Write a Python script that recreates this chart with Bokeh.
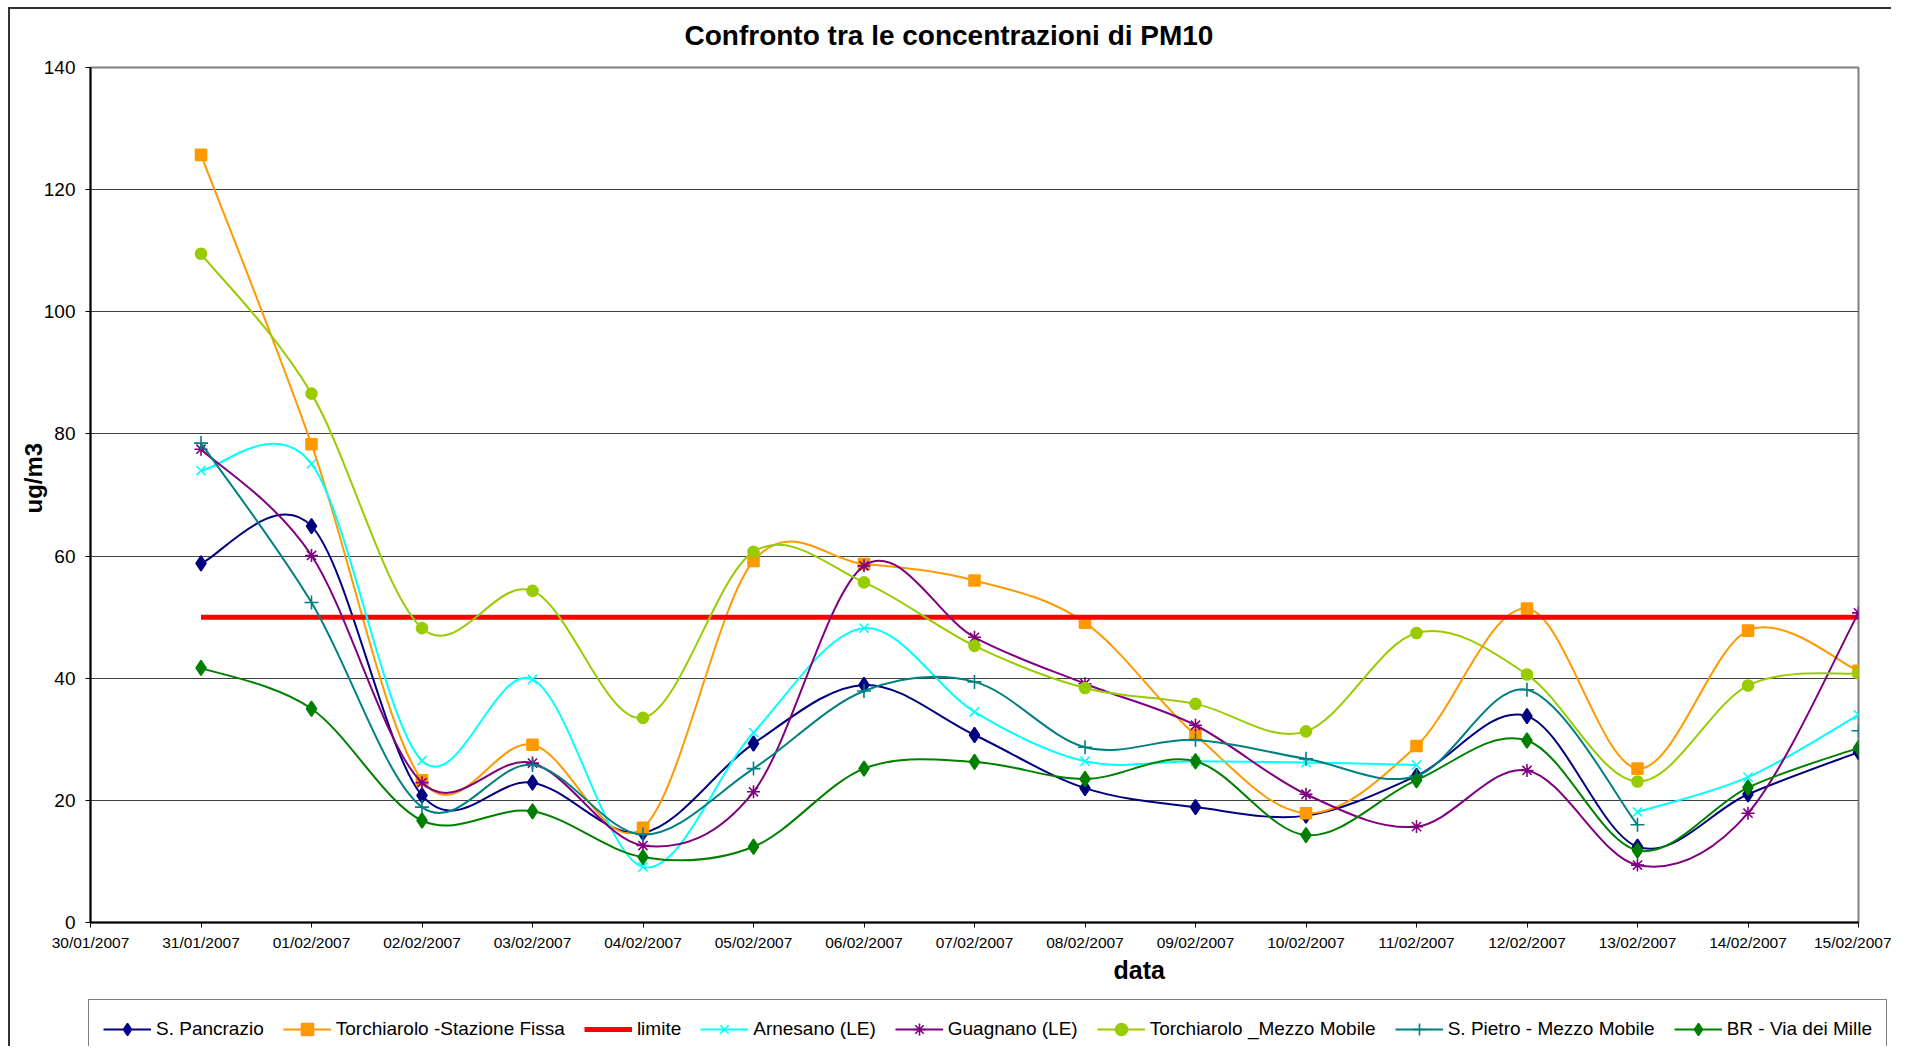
import math
from bokeh.plotting import figure
from bokeh.layouts import column
from bokeh.models import (ColumnDataSource, FixedTicker, Legend, LegendItem,
                          Title, Range1d)
from bokeh.embed import file_html
from bokeh.resources import INLINE

# ---------------- data ----------------
date_labels = ["30/01/2007", "31/01/2007", "01/02/2007", "02/02/2007",
               "03/02/2007", "04/02/2007", "05/02/2007", "06/02/2007",
               "07/02/2007", "08/02/2007", "09/02/2007", "10/02/2007",
               "11/02/2007", "12/02/2007", "13/02/2007", "14/02/2007",
               "15/02/2007"]
dates = date_labels[1:]
y_ticks = [0, 20, 40, 60, 80, 100, 120, 140]

nan = float("nan")
s_pancrazio = [58.8, 64.9, 20.8, 22.9, 14.7, 29.3, 38.9, 30.7, 22.0, 18.9,
               17.5, 24.0, 33.8, 12.4, 21.0, 27.9]
torchiarolo_sf = [125.7, 78.3, 23.3, 29.1, 15.5, 59.2, 58.7, 56.0, 49.1, 30.7,
                  17.9, 28.9, 51.4, 25.2, 47.8, 41.2]
arnesano = [74.0, 75.1, 26.5, 39.8, 9.1, 31.1, 48.2, 34.5, 26.4, 26.4,
            26.2, 25.8, nan, 18.1, 23.8, 34.0]
guagnano = [77.5, 60.1, 22.9, 26.1, 12.6, 21.4, 58.4, 46.7, 39.1, 32.3,
            21.0, 15.7, 24.9, 9.4, 17.9, 50.7]
torchiarolo_mm = [109.5, 86.6, 48.2, 54.3, 33.5, 60.7, 55.7, 45.3, 38.4, 35.8,
                  31.3, 47.4, 40.6, 23.1, 38.8, 40.8]
s_pietro = [78.5, 52.4, 18.9, 25.8, 14.4, 25.2, 37.9, 39.4, 28.7, 29.9,
            26.8, 24.0, 38.1, 16.0, nan, 31.4]
br_mille = [41.7, 35.0, 16.7, 18.2, 10.7, 12.4, 25.2, 26.3, 23.5, 26.4,
            14.3, 23.3, 29.8, 11.8, 22.1, 28.6]
limite = 50

FONT = "Liberation Sans"

series = [
    ("S. Pancrazio", s_pancrazio, "#000080", "diamond", 15),
    ("Torchiarolo -Stazione Fissa", torchiarolo_sf, "#FF9900", "square", 11),
    ("limite", None, "#FF0000", None, 0),
    ("Arnesano (LE)", arnesano, "#00FFFF", "x", 13),
    ("Guagnano (LE)", guagnano, "#800080", "asterisk", 13),
    ("Torchiarolo _Mezzo Mobile", torchiarolo_mm, "#99CC00", "circle", 11),
    ("S. Pietro - Mezzo Mobile", s_pietro, "#008080", "cross", 14),
    ("BR - Via dei Mille", br_mille, "#008000", "diamond", 15),
]

x_days = [date_labels.index(d) for d in dates]


def bezier_segments(xs, ys):
    """Excel-like smoothed line: cubic Bezier pieces between valid neighbours."""
    out = dict(x0=[], y0=[], x1=[], y1=[], cx0=[], cy0=[], cx1=[], cy1=[])
    n = len(xs)
    ok = [not math.isnan(v) for v in ys]
    for i in range(n - 1):
        if not (ok[i] and ok[i + 1]):
            continue
        p1 = (xs[i], ys[i])
        p2 = (xs[i + 1], ys[i + 1])
        p0 = (xs[i - 1], ys[i - 1]) if i - 1 >= 0 and ok[i - 1] else p1
        p3 = (xs[i + 2], ys[i + 2]) if i + 2 < n and ok[i + 2] else p2
        out["x0"].append(p1[0]); out["y0"].append(p1[1])
        out["x1"].append(p2[0]); out["y1"].append(p2[1])
        out["cx0"].append(p1[0] + (p2[0] - p0[0]) / 6.0)
        out["cy0"].append(p1[1] + (p2[1] - p0[1]) / 6.0)
        out["cx1"].append(p2[0] - (p3[0] - p1[0]) / 6.0)
        out["cy1"].append(p2[1] - (p3[1] - p1[1]) / 6.0)
    return out


# ---------------- main figure ----------------
W, H_MAIN, H_LEG = 1891, 995, 51
p = figure(width=W, height=H_MAIN,
           x_range=Range1d(0, len(date_labels) - 1), y_range=Range1d(0, 140),
           output_backend="svg", toolbar_location=None,
           min_border_left=90, min_border_right=33,
           min_border_top=67, min_border_bottom=H_MAIN - 922,
           background_fill_color="white", border_fill_color="white",
           border_fill_alpha=0)
p.frame_align = False

p.outline_line_color = "#808080"
p.outline_line_width = 2

p.title = Title(text="Confronto tra le concentrazioni di PM10", align="left",
                offset=594, text_font=FONT, text_font_size="28px",
                text_font_style="bold", text_color="black", standoff=34)

# axes
p.xaxis.ticker = FixedTicker(ticks=list(range(len(date_labels))))
p.xaxis.major_label_overrides = {i: lab for i, lab in enumerate(date_labels)}
p.yaxis.ticker = FixedTicker(ticks=y_ticks)
for ax in (p.xaxis[0], p.yaxis[0]):
    ax.axis_line_color = "black"
    ax.axis_line_width = 2
    ax.major_tick_line_color = "black"
    ax.major_tick_line_width = 1
    ax.major_tick_in = 0
    ax.major_tick_out = 5
    ax.minor_tick_line_color = None
    ax.major_label_text_font = FONT
    ax.major_label_text_color = "black"
p.xaxis.major_label_text_font_size = "15.5px"
p.xaxis.major_label_standoff = 6
p.yaxis.major_label_text_font_size = "19px"
p.yaxis.major_label_standoff = 10

ylab = Title(text="ug/m3", align="left", offset=409, text_font=FONT,
             text_font_size="24px", text_font_style="bold", text_color="black",
             standoff=0)
try:
    ylab.standoff = -12
except Exception:
    pass
p.add_layout(ylab, "left")

p.xgrid.grid_line_color = None
p.ygrid.grid_line_color = "#404040"
p.ygrid.grid_line_width = 1

xlab = Title(text="data", align="left", offset=1023, text_font=FONT,
             text_font_size="25px", text_font_style="bold", text_color="black",
             standoff=0)
p.add_layout(xlab, "below")

# ---------------- legend strip (its own small canvas below the chart) ----------------
pl = figure(width=W, height=H_LEG, x_range=Range1d(0, 1), y_range=Range1d(0, 1),
            output_backend="svg", toolbar_location=None, title=None,
            x_axis_location=None, y_axis_location=None, min_border=0,
            background_fill_alpha=0, border_fill_alpha=0)
pl.frame_align = False
pl.outline_line_color = None
pl.grid.grid_line_color = None

# ---------------- series ----------------
items = []
for name, vals, color, marker, size in series:
    if vals is None:
        p.line(x=[x_days[0], x_days[-1]], y=[limite, limite],
               line_color=color, line_width=5)
        # legend swatch renderer (same data, lies outside the strip's ranges)
        lr = pl.line(x=[x_days[0], x_days[-1]], y=[limite, limite],
                     line_color=color, line_width=5)
        items.append(LegendItem(label=name, renderers=[lr]))
        continue
    seg = ColumnDataSource(bezier_segments(x_days, vals))
    p.bezier(x0="x0", y0="y0", x1="x1", y1="y1", cx0="cx0", cy0="cy0",
             cx1="cx1", cy1="cy1", source=seg, line_color=color, line_width=2)
    pts = ColumnDataSource(dict(x=[x for x, v in zip(x_days, vals) if not math.isnan(v)],
                                y=[v for v in vals if not math.isnan(v)]))
    p.scatter(x="x", y="y", source=pts, marker=marker, size=size,
              fill_color=color, line_color=color, line_width=1.6)
    # legend swatch renderers (same data, outside the strip's visible ranges)
    ll = pl.line(x="x", y="y", source=pts, line_color=color, line_width=2)
    lm = pl.scatter(x="x", y="y", source=pts, marker=marker, size=size,
                    fill_color=color, line_color=color, line_width=1.6)
    items.append(LegendItem(label=name, renderers=[ll, lm]))

legend = Legend(items=items, orientation="horizontal",
                location=(88, -13),
                margin=0, padding=14, spacing=19, glyph_width=48,
                glyph_height=30, label_standoff=5, label_text_font=FONT,
                label_text_font_size="19px", label_text_color="black",
                border_line_color="black", border_line_width=1,
                background_fill_color="white", background_fill_alpha=1)
pl.add_layout(legend, "center")

layout = column(p, pl, spacing=0)
layout.styles = {"box-shadow": "inset 8px 7px 0 0 #ffffff, inset 10px 9px 0 0 #333333"}

open("out.html", "w").write(file_html(layout, INLINE))
